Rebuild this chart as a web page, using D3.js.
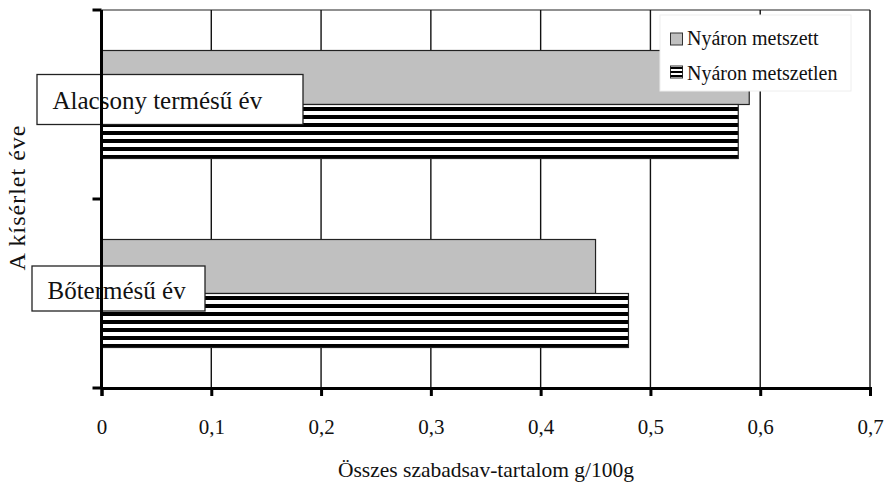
<!DOCTYPE html>
<html>
<head>
<meta charset="utf-8">
<script src="https://cdn.jsdelivr.net/npm/d3@7"></script>
<style>
  html, body { margin: 0; padding: 0; background: #fff; }
  svg { display: block; }
</style>
</head>
<body>
<svg id="chart" width="888" height="488"></svg>
<script>
// Experiment years (top to bottom) and the two treatments
const years = ["Alacsony termésű év", "Bőtermésű év"];
const series = ["Nyáron metszett", "Nyáron metszetlen"];
// Total free acid content, g/100g, one array per treatment (same order as years)
const metszett = [0.59, 0.45];
const metszetlen = [0.58, 0.48];
const xTicks = [0, 0.1, 0.2, 0.3, 0.4, 0.5, 0.6, 0.7];
const xTickLabels = ["0", "0,1", "0,2", "0,3", "0,4", "0,5", "0,6", "0,7"];
const xTitle = "Összes szabadsav-tartalom g/100g";
const yTitle = "A kísérlet éve";

const values = { "Nyáron metszett": metszett, "Nyáron metszetlen": metszetlen };
const SERIF = "\"Liberation Serif\"";

const svg = d3.select("#chart");
const plotL = 101.5, plotR = 870, plotT = 10, plotB = 388;

const x = d3.scaleLinear().domain([0, 0.7]).range([plotL, plotR]);
const y = d3.scaleBand().domain(years).range([plotT, plotB]).padding(0);
const ySub = d3.scaleBand().domain(series).range([0, y.bandwidth()])
  .paddingInner(0).paddingOuter(0.75);

// Horizontal stripe fill for the second series
const defs = svg.append("defs");
const pat = defs.append("pattern")
  .attr("id", "stripes").attr("patternUnits", "userSpaceOnUse")
  .attr("width", 8).attr("height", 8).attr("y", 1);
pat.append("rect").attr("width", 8).attr("height", 8).attr("fill", "#fff");
pat.append("rect").attr("y", 0).attr("width", 8).attr("height", 4).attr("fill", "#000");

const fills = { "Nyáron metszett": "#c0c0c0", "Nyáron metszetlen": "url(#stripes)" };

// Plot frame (top edge) and vertical gridlines
svg.append("line")
  .attr("x1", plotL).attr("x2", plotR).attr("y1", plotT).attr("y2", plotT)
  .attr("stroke", "#222").attr("stroke-width", 1.2);
svg.append("g").selectAll("line").data(xTicks.slice(1))
  .join("line")
  .attr("x1", d => x(d)).attr("x2", d => x(d))
  .attr("y1", plotT).attr("y2", plotB)
  .attr("stroke", "#111").attr("stroke-width", 1.4);

// Bars
const groups = svg.append("g").selectAll("g").data(years)
  .join("g").attr("transform", d => `translate(0,${y(d)})`);
groups.selectAll("rect")
  .data((yr, i) => series.map(s => ({ s, v: values[s][i] })))
  .join("rect")
  .attr("x", x(0))
  .attr("y", d => ySub(d.s))
  .attr("width", d => x(d.v) - x(0))
  .attr("height", ySub.bandwidth())
  .attr("fill", d => fills[d.s])
  .attr("stroke", "#222").attr("stroke-width", 1.2);

// Category labels in boxes over the bars
const labelBoxes = [
  { w: 266, h: 50 },
  { w: 173, h: 45 }
];
const labelLeft = [37, 32];
years.forEach((yr, i) => {
  const cy = y(yr) + y.bandwidth() / 2;
  const g = svg.append("g");
  g.append("rect")
    .attr("x", labelLeft[i]).attr("y", cy - labelBoxes[i].h / 2 - 5)
    .attr("width", labelBoxes[i].w).attr("height", labelBoxes[i].h)
    .attr("fill", "#fff").attr("stroke", "#222").attr("stroke-width", 1.3);
  g.append("text")
    .attr("x", labelLeft[i] + 15.5).attr("y", cy + 4 + i * 1.5)
    .style("font-family", SERIF).style("font-size", "25px").style("fill", "#111")
    .text(yr);
});

// X axis
const xAxis = d3.axisBottom(x).tickValues(xTicks)
  .tickFormat((d, i) => xTickLabels[i]).tickSize(8).tickPadding(23);
const gx = svg.append("g").attr("transform", `translate(0,${plotB})`).call(xAxis);
gx.select(".domain").attr("stroke", "#000").attr("stroke-width", 3);
gx.selectAll(".tick line").attr("stroke", "#000").attr("stroke-width", 3);
gx.selectAll(".tick text")
  .style("font-family", SERIF).style("font-size", "21px").style("fill", "#111");

// Y axis: a line with ticks on the group boundaries
const yBounds = [plotT, y(years[1]), plotB];
const gy = svg.append("g");
gy.append("line").attr("x1", plotL).attr("x2", plotL).attr("y1", plotT).attr("y2", plotB)
  .attr("stroke", "#000").attr("stroke-width", 3);
gy.selectAll(".yt").data(yBounds).join("line").attr("class", "yt")
  .attr("x1", plotL - 9).attr("x2", plotL).attr("y1", d => d).attr("y2", d => d)
  .attr("stroke", "#000").attr("stroke-width", 3);

// Axis titles
svg.append("text").attr("x", 486).attr("y", 477).attr("text-anchor", "middle")
  .style("font-family", SERIF).style("font-size", "21.5px").style("fill", "#111")
  .text(xTitle);
svg.append("text").attr("transform", `translate(25,197.5) rotate(-90)`)
  .attr("text-anchor", "middle")
  .style("font-family", SERIF).style("font-size", "24px").style("letter-spacing", "1px")
  .style("fill", "#111")
  .text(yTitle);

// Legend
const lg = svg.append("g").attr("transform", "translate(660,15)");
lg.append("rect").attr("width", 191).attr("height", 76)
  .attr("fill", "#fff").attr("stroke", "#eee").attr("stroke-width", 1);
series.forEach((s, i) => {
  const sy = 18 + i * 33;
  lg.append("rect").attr("x", 10.5).attr("y", sy).attr("width", 12).attr("height", 12)
    .attr("fill", s === series[0] ? "#c0c0c0" : "#fff")
    .attr("stroke", "#333").attr("stroke-width", 1);
  if (s === series[1]) {
    [0, 1, 2].forEach(k => lg.append("rect")
      .attr("x", 10.5).attr("y", sy + 1 + k * 4).attr("width", 12).attr("height", 2)
      .attr("fill", "#000"));
  }
  lg.append("text").attr("x", 27).attr("y", 30 + i * 34.5)
    .style("font-family", SERIF).style("font-size", "20px").style("fill", "#111")
    .text(s);
});
</script>
</body>
</html>
